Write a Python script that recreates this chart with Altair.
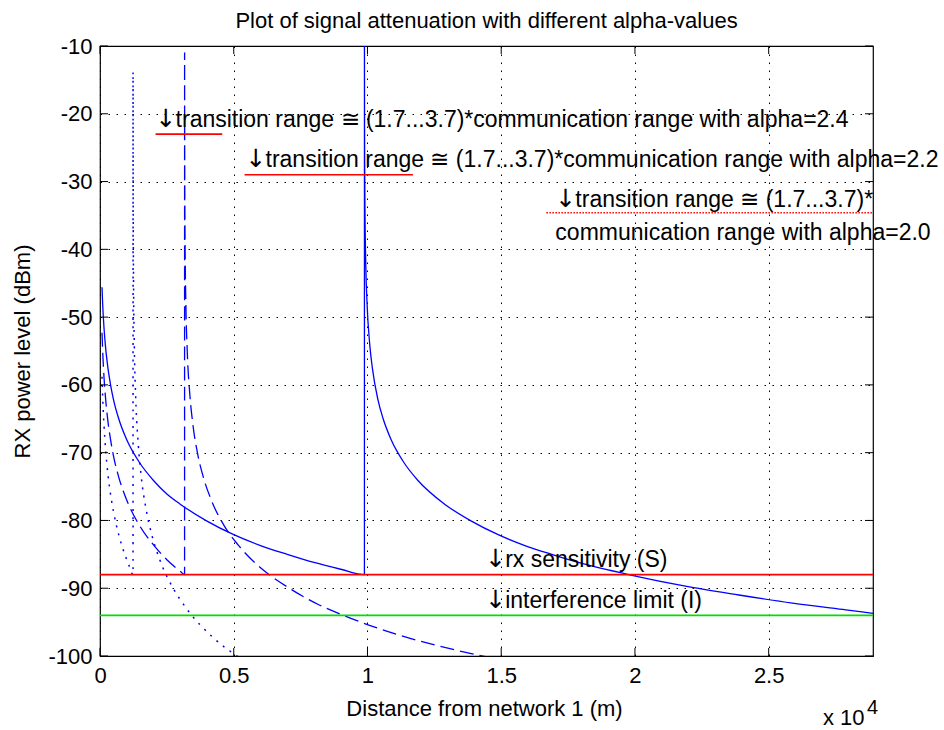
import altair as alt
import pandas as pd

FONT = "Liberation Sans"
ARROW_FONT = "DejaVu Sans"

# ---- curves (distance in m, RX power in dBm) ----
# alpha = 2.0 (solid)
solid_d = [75, 100, 150, 200, 300, 400, 500, 700, 1000, 1500,
           2000, 2500, 3000, 4000, 5000, 6000, 7000, 8000, 9000, 9886,
           9887, 9888, 9891, 9896, 9906, 9936, 9986, 10086, 10186, 10386,
           10586, 10886, 11386, 11886, 12886, 13886, 14886, 15886, 16886, 17886,
           19886, 21886, 23886, 25886, 27886, 28900]
solid_p = [-45.6, -48.1, -51.6, -54.1, -57.6, -60.1, -62.1, -65.0, -68.1, -71.6,
           -74.1, -76.1, -77.6, -80.1, -82.1, -83.7, -85.0, -86.2, -87.2, -88.0,
           -8.1, -14.1, -22.1, -28.1, -34.1, -42.1, -48.1, -54.1, -57.6, -62.1,
           -65.0, -68.1, -71.6, -74.1, -77.6, -80.1, -82.1, -83.7, -85.0, -86.2,
           -88.1, -89.7, -91.0, -92.2, -93.2, -93.7]

# alpha = 2.2 (dashed)
dash_d = [75, 100, 150, 200, 300, 400, 500, 700, 1000, 1500, 2000, 2500, 3000, 3162,
          3163, 3164, 3167, 3172, 3182, 3212, 3262, 3362, 3462, 3662,
          3862, 4162, 4662, 5162, 6162, 7162, 8162, 9162, 11162, 13162, 15162]
dash_p = [-52.3, -55.0, -58.9, -61.6, -65.5, -68.2, -70.4, -73.6, -77.0, -80.9, -83.6, -85.8, -87.5, -88.0,
          -11.0, -17.6, -26.4, -33.0, -39.6, -48.4, -55.0, -61.6, -65.5, -70.4,
          -73.6, -77.0, -80.9, -83.6, -87.5, -90.2, -92.4, -94.1, -96.9, -99.0, -100.7]

# alpha = 2.4 (dotted)
dot_d = [75, 100, 150, 200, 300, 400, 500, 700, 900, 1000, 1100, 1235,
         1236, 1237, 1240, 1245, 1255, 1285, 1335, 1435, 1535, 1735,
         1935, 2235, 2735, 3235, 4235, 5235, 6235]
dot_p = [-58.8, -61.8, -66.0, -69.0, -73.3, -76.3, -78.6, -82.1, -84.7, -85.8, -86.8, -88.0,
         -13.8, -21.0, -30.6, -37.8, -45.0, -54.6, -61.8, -69.0, -73.3, -78.6,
         -82.1, -85.8, -90.0, -93.0, -97.3, -100.3, -102.6]

# limits
level_values = [-88, -94]
level_colors = ["#ff0000", "#00dd00"]

# transition range markers
range_x1 = [2078, 5404, 16690]
range_x2 = [4570, 11700, 36578]
range_y = [-23, -29, -34.6]
range_kind = ["solid", "solid", "dotted"]

# annotation texts (arrowed ones get a "↓" drawn in front of them)
arrow_char = ["↓"]
arrowed_texts = [
    "transition range ≅ (1.7...3.7)*communication range with alpha=2.4",
    "transition range ≅ (1.7...3.7)*communication range with alpha=2.2",
    "transition range ≅ (1.7...3.7)*",
    "rx sensitivity (S)",
    "interference limit (I)",
]
arrowed_x = [2078, 5441, 17025, 14400, 14400]
arrowed_y = [-21.9, -27.8, -33.7, -86.8, -92.9]

plain_texts = ["communication range with alpha=2.0"]
plain_x = [17025]
plain_y = [-38.6]

title_text = ["Plot of signal attenuation with different alpha-values"]
exponent_texts = ["x 10", "4"]

x_ticks = [0, 5000, 10000, 15000, 20000, 25000]
y_ticks = [-100, -90, -80, -70, -60, -50, -40, -30, -20, -10]
x_domain = [0, 28900]
y_domain = [-100, -10]

W, H = 773, 610


def curve_frame(d, p):
    return pd.DataFrame({"d": d, "p": p, "i": list(range(len(d)))})


xs = alt.Scale(domain=x_domain, nice=False, zero=False)
ys = alt.Scale(domain=y_domain, nice=False, zero=False)

x_axis = alt.Axis(
    values=x_ticks, labelExpr="format(datum.value / 10000, '~g')",
    title="Distance from network 1 (m)", grid=True, gridColor="#000000",
    gridDash=[1.5, 6.5], gridWidth=1, gridOpacity=1, ticks=False, tickSize=0,
    domain=False, labelPadding=9, labelFontSize=22, labelFont=FONT,
    labelColor="#000000", labelFlush=False, labelOverlap=False,
    titleFontSize=22, titleFont=FONT,
    titleFontWeight="normal", titleColor="#000000", titleX=384, titleY=59,
    titleBaseline="alphabetic", titleAlign="center",
)
y_axis = alt.Axis(
    values=y_ticks, labelExpr="'-' + format(abs(datum.value), 'd')",
    title="RX power level (dBm)", grid=True, gridColor="#000000",
    gridDash=[1.5, 6.5], gridWidth=1, gridOpacity=1, ticks=False, tickSize=0,
    domain=False, labelPadding=8, labelFontSize=22, labelFont=FONT,
    labelColor="#000000", labelFlush=False, labelOverlap=False,
    titleFontSize=22, titleFont=FONT,
    titleFontWeight="normal", titleColor="#000000", titleX=-71, titleY=H / 2,
    titleAngle=270, titleBaseline="alphabetic", titleAlign="center",
)


def X():
    return alt.X("d:Q", scale=xs, axis=x_axis)


def Y():
    return alt.Y("p:Q", scale=ys, axis=y_axis)


BLUE = "#0000ff"

solid = alt.Chart(curve_frame(solid_d, solid_p)).mark_line(
    color=BLUE, strokeWidth=1.3, clip=True, interpolate="monotone"
).encode(x=X(), y=Y(), order="i:Q")

dashed = alt.Chart(curve_frame(dash_d, dash_p)).mark_line(
    color=BLUE, strokeWidth=1.3, clip=True, interpolate="monotone", strokeDash=[14, 6]
).encode(x=X(), y=Y(), order="i:Q")

dotted = alt.Chart(curve_frame(dot_d, dot_p)).mark_line(
    color=BLUE, strokeWidth=1.5, clip=True, interpolate="monotone", strokeDash=[2, 6.3]
).encode(x=X(), y=Y(), order="i:Q")

levels = alt.Chart(pd.DataFrame({"p": level_values, "c": level_colors})).mark_rule(
    strokeWidth=1.6
).encode(y=Y(), color=alt.Color("c:N", scale=None))

ranges_df = pd.DataFrame({"d": range_x1, "d2": range_x2, "p": range_y, "k": range_kind})
ranges_solid = alt.Chart(ranges_df).transform_filter(
    alt.datum.k == "solid"
).mark_rule(color="#ff0000", strokeWidth=1.6, clip=True).encode(
    x=X(), x2="d2:Q", y=Y())
ranges_dotted = alt.Chart(ranges_df).transform_filter(
    alt.datum.k == "dotted"
).mark_rule(color="#ff0000", strokeWidth=1.6, clip=True, strokeDash=[1.5, 1.5]).encode(
    x=X(), x2="d2:Q", y=Y())

arrowed_df = pd.DataFrame({"d": arrowed_x, "p": arrowed_y, "t": arrowed_texts,
                           "a": arrow_char * len(arrowed_texts)})
arrows = alt.Chart(arrowed_df).mark_text(
    align="left", baseline="alphabetic", fontSize=25, font=ARROW_FONT, color="#000000"
).encode(x=X(), y=Y(), text="a:N")
arrowed_labels = alt.Chart(arrowed_df).mark_text(
    align="left", baseline="alphabetic", fontSize=23, font=FONT, color="#000000", dx=20
).encode(x=X(), y=Y(), text="t:N")
plain_labels = alt.Chart(pd.DataFrame({"d": plain_x, "p": plain_y, "t": plain_texts})).mark_text(
    align="left", baseline="alphabetic", fontSize=23, font=FONT, color="#000000"
).encode(x=X(), y=Y(), text="t:N")

xt = pd.DataFrame({"d": x_ticks})
yt = pd.DataFrame({"p": y_ticks})
tick_bottom = alt.Chart(xt).mark_rule(color="#000000", strokeWidth=1).encode(
    x=X(), y=alt.value(H), y2=alt.value(H - 8))
tick_top = alt.Chart(xt).mark_rule(color="#000000", strokeWidth=1).encode(
    x=X(), y=alt.value(0), y2=alt.value(8))
tick_left = alt.Chart(yt).mark_rule(color="#000000", strokeWidth=1).encode(
    y=Y(), x=alt.value(0), x2=alt.value(8))
tick_right = alt.Chart(yt).mark_rule(color="#000000", strokeWidth=1).encode(
    y=Y(), x=alt.value(W), x2=alt.value(W - 8))

title_mark = alt.Chart(pd.DataFrame({"t": title_text})).mark_text(
    align="center", baseline="alphabetic", fontSize=22, font=FONT, color="#000000"
).encode(x=alt.value(W / 2), y=alt.value(-18), text="t:N")

exp_base = alt.Chart(pd.DataFrame({"t": [exponent_texts[0]]})).mark_text(
    align="left", baseline="alphabetic", fontSize=22, font=FONT, color="#000000"
).encode(x=alt.value(723), y=alt.value(679), text="t:N")
exp_power = alt.Chart(pd.DataFrame({"t": [exponent_texts[1]]})).mark_text(
    align="left", baseline="alphabetic", fontSize=20, font=FONT, color="#000000"
).encode(x=alt.value(767), y=alt.value(668), text="t:N")

chart = alt.layer(
    solid, dashed, dotted, levels, ranges_solid, ranges_dotted,
    arrows, arrowed_labels, plain_labels,
    tick_bottom, tick_top, tick_left, tick_right, title_mark, exp_base, exp_power,
).properties(
    width=W, height=H,
    padding={"left": 100, "top": 46, "right": 71, "bottom": 74},
    autosize=alt.AutoSizeParams(type="none"),
    background="#ffffff",
).configure_view(stroke="#000000", strokeWidth=1.2)

chart.save("out.html", embed_options={"renderer": "svg", "actions": False})
